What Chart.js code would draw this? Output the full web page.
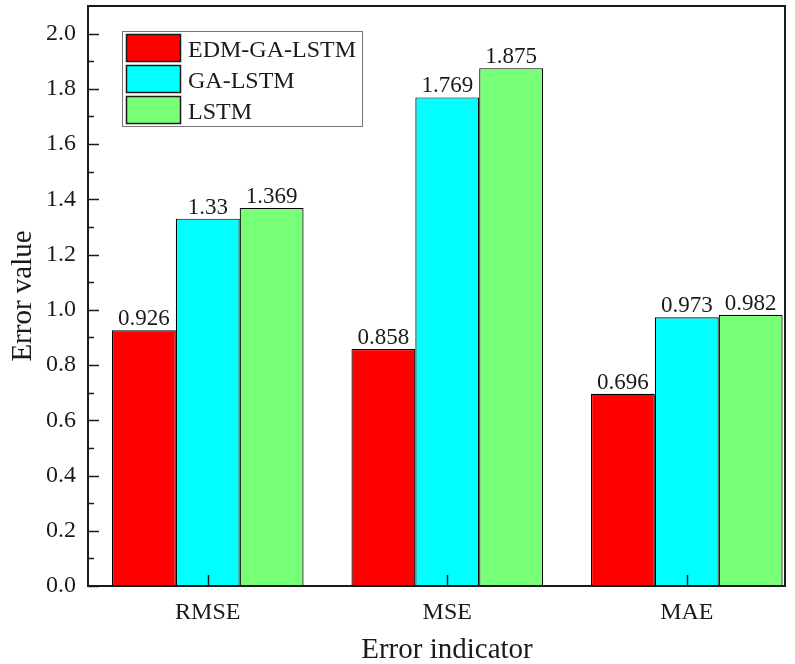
<!DOCTYPE html>
<html>
<head>
<meta charset="utf-8">
<script src="https://cdn.jsdelivr.net/npm/chart.js@4.4.1/dist/chart.umd.min.js"></script>
<style>
  html, body { margin: 0; padding: 0; background: #fff; }
  #chart { display: block; }
</style>
</head>
<body>
<canvas id="chart" width="795" height="664"></canvas>
<script>
const categories = ['RMSE', 'MSE', 'MAE'];
const seriesNames = ['EDM-GA-LSTM', 'GA-LSTM', 'LSTM'];
const edmGaLstm = [0.926, 0.858, 0.696];
const gaLstm = [1.33, 1.769, 0.973];
const lstm = [1.369, 1.875, 0.982];
const yTicks = [0, 0.2, 0.4, 0.6, 0.8, 1.0, 1.2, 1.4, 1.6, 1.8, 2.0];
const seriesColors = ['#ff0000', '#00ffff', '#78ff78'];

const FONT = '"Liberation Serif", "Times New Roman", serif';
const INK = '#1a1a1a';

const toPoints = vals => vals.map((v, i) => ({ x: i + 1, y: v }));

// box frame + inward ticks, like the original plot
const framePlugin = {
    id: 'frame',
    afterDatasetsDraw(chart) {
        const { ctx, chartArea: a, scales } = chart;
        ctx.save();
        ctx.strokeStyle = INK;
        ctx.lineWidth = 1.5;
        // y ticks: major at labels, minor halfway
        yTicks.forEach((t, i) => {
            const y = Math.round(scales.y.getPixelForValue(t)) + 0.5;
            ctx.beginPath();
            ctx.moveTo(a.left, y);
            ctx.lineTo(a.left + 11, y);
            ctx.stroke();
            if (i < yTicks.length - 1) {
                const ym = Math.round(scales.y.getPixelForValue(t + 0.1)) + 0.5;
                ctx.beginPath();
                ctx.moveTo(a.left, ym);
                ctx.lineTo(a.left + 6, ym);
                ctx.stroke();
            }
        });
        categories.forEach((c, i) => {
            const x = Math.round(scales.x.getPixelForValue(i + 1)) + 0.5;
            ctx.beginPath();
            ctx.moveTo(x, a.bottom);
            ctx.lineTo(x, a.bottom - 11);
            ctx.stroke();
        });
        ctx.lineWidth = 2;
        ctx.strokeRect(a.left, a.top, a.right - a.left, a.bottom - a.top);
        ctx.restore();
    }
};

// value labels above each bar
const valueLabels = {
    id: 'valueLabels',
    afterDatasetsDraw(chart) {
        const { ctx } = chart;
        ctx.save();
        ctx.font = '23px ' + FONT;
        ctx.fillStyle = INK;
        ctx.textAlign = 'center';
        ctx.textBaseline = 'alphabetic';
        chart.data.datasets.forEach((ds, di) => {
            chart.getDatasetMeta(di).data.forEach((bar, i) => {
                ctx.fillText(String(ds.data[i].y), bar.x, bar.y - 5);
            });
        });
        ctx.restore();
    }
};

// legend box inside plot, top-left
const boxLegend = {
    id: 'boxLegend',
    afterDraw(chart) {
        const { ctx } = chart;
        const x0 = 122.5, y0 = 31.5, w = 240, h = 95;
        ctx.save();
        ctx.fillStyle = '#fff';
        ctx.fillRect(x0, y0, w, h);
        ctx.strokeStyle = '#777';
        ctx.lineWidth = 1;
        ctx.strokeRect(x0, y0, w, h);
        ctx.font = '24px ' + FONT;
        ctx.textBaseline = 'alphabetic';
        chart.data.datasets.forEach((ds, i) => {
            const sy = 34 + i * 31;
            ctx.fillStyle = ds.backgroundColor;
            ctx.fillRect(126, sy, 55, 28);
            ctx.strokeStyle = INK;
            ctx.lineWidth = 1.5;
            ctx.strokeRect(126.5, sy + 0.5, 54, 27);
            ctx.fillStyle = INK;
            ctx.fillText(ds.label, 188, sy + 23);
        });
        ctx.restore();
    }
};

// axis titles
const axisTitles = {
    id: 'axisTitles',
    afterDraw(chart) {
        const { ctx, chartArea: a } = chart;
        ctx.save();
        ctx.font = '29px ' + FONT;
        ctx.fillStyle = INK;
        ctx.textAlign = 'center';
        ctx.textBaseline = 'alphabetic';
        ctx.fillText('Error indicator', 447, 658);
        ctx.translate(31, (a.top + a.bottom) / 2);
        ctx.rotate(-Math.PI / 2);
        ctx.fillText('Error value', 0, 0);
        ctx.restore();
    }
};

new Chart(document.getElementById('chart'), {
    type: 'bar',
    data: {
        datasets: [edmGaLstm, gaLstm, lstm].map((vals, i) => ({
            label: seriesNames[i],
            data: toPoints(vals),
            backgroundColor: seriesColors[i],
            borderColor: '#000',
            borderWidth: 1.2,
            categoryPercentage: 0.8,
            barPercentage: 1.0
        }))
    },
    options: {
        responsive: false,
        devicePixelRatio: 1,
        animation: false,
        layout: { padding: { top: 6, right: 10, left: 0, bottom: 0 } },
        plugins: {
            legend: { display: false },
            tooltip: { enabled: false }
        },
        scales: {
            x: {
                type: 'linear',
                min: 0.5,
                max: 3.41,
                offset: false,
                grid: { display: false, drawTicks: false },
                border: { display: false },
                afterBuildTicks: s => { s.ticks = categories.map((c, i) => ({ value: i + 1 })); },
                afterFit: s => { s.height = 78; s.paddingLeft = 0; s.paddingRight = 0; },
                ticks: {
                    padding: 12,
                    color: INK,
                    font: { family: FONT, size: 24 },
                    callback: v => categories[v - 1]
                }
            },
            y: {
                min: 0,
                max: 2.1,
                grid: { display: false, drawTicks: false },
                border: { display: false },
                afterBuildTicks: s => { s.ticks = yTicks.map(v => ({ value: v })); },
                afterFit: s => { s.width = 88; s.paddingTop = 0; s.paddingBottom = 0; },
                ticks: {
                    padding: 12,
                    color: INK,
                    font: { family: FONT, size: 24 },
                    callback: v => Number(v).toFixed(1)
                }
            }
        }
    },
    plugins: [framePlugin, valueLabels, boxLegend, axisTitles]
});
</script>
</body>
</html>
